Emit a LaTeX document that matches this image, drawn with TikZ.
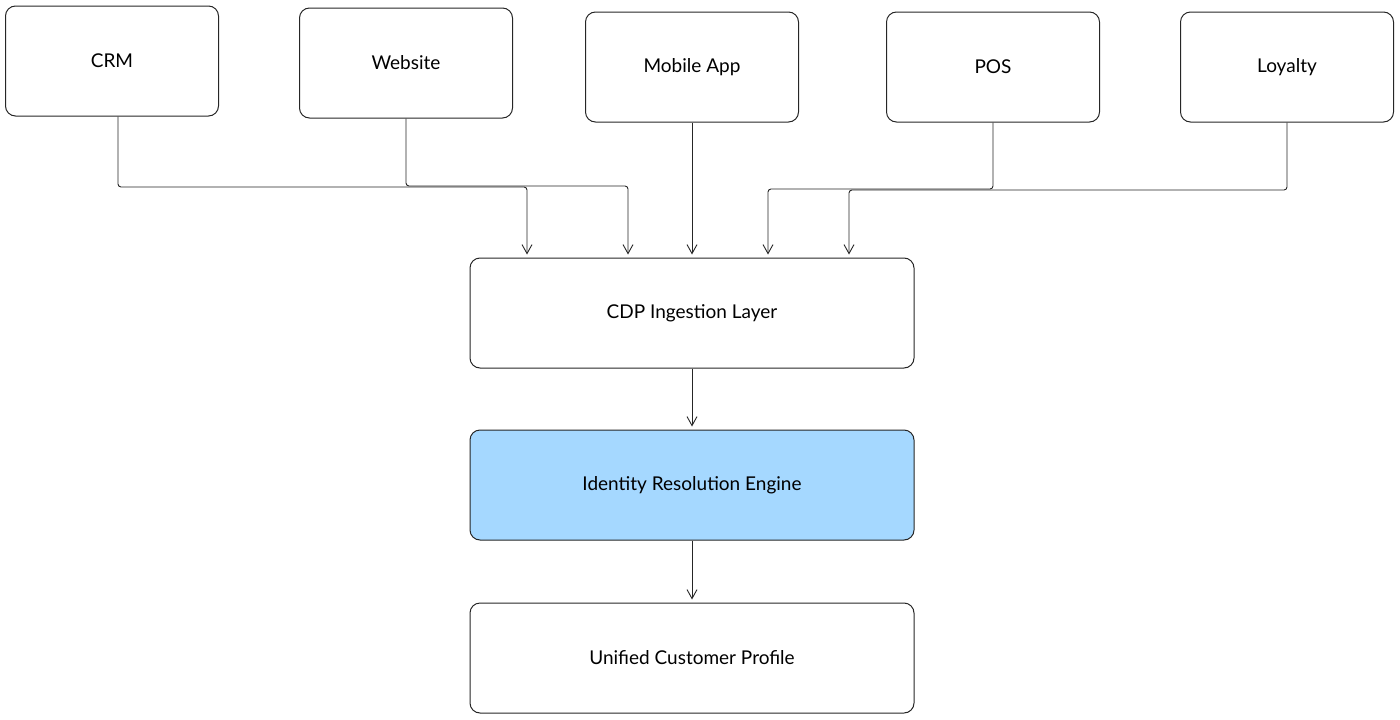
\documentclass[tikz,border=0pt]{standalone}
\usepackage{fontspec}
\setmainfont{Lato}
\usetikzlibrary{arrows.meta}
\begin{document}
\begin{tikzpicture}[x=1pt,y=-1pt,
  box/.style={draw=black!85,line width=1pt,rounded corners=10pt,minimum width=213pt,minimum height=110pt,font=\fontsize{19}{22}\selectfont,inner sep=0pt},
  wide/.style={box,minimum width=444pt},
  arr/.style={->,>={Straight Barb[length=9pt,width=10pt]},draw=black!85,line width=0.9pt,rounded corners=3pt}]
\useasboundingbox (0,0) rectangle (1400,720);
\definecolor{idblue}{HTML}{A5D8FF}
\node[box] (crm) at (112,61) {CRM};
\node[box] (web) at (406,63) {Website};
\node[box] (app) at (692,67) {Mobile App};
\node[box] (pos) at (993,67) {POS};
\node[box] (loy) at (1287,67) {Loyalty};
\node[wide] (cdp) at (692,313) {CDP Ingestion Layer};
\node[wide,fill=idblue] (ire) at (692,485) {Identity Resolution Engine};
\node[wide] (ucp) at (692,658) {Unified Customer Profile};
\coordinate (c1) at (527,187);
\coordinate (c2) at (628,186);
\coordinate (c4) at (768,189);
\coordinate (c5) at (849,190);
\coordinate (s1) at (118,0);
\coordinate (s2) at (406,0);
\coordinate (s4) at (993,0);
\coordinate (s5) at (1287,0);
\draw[arr] (s1 |- crm.south) -- (s1 |- c1) -- (c1) -- ([yshift=3pt]c1 |- cdp.north);
\draw[arr] (s2 |- web.south) -- (s2 |- c2) -- (c2) -- ([yshift=3pt]c2 |- cdp.north);
\draw[arr] (app.south) -- ([yshift=3pt]cdp.north);
\draw[arr] (s4 |- pos.south) -- (s4 |- c4) -- (c4) -- ([yshift=3pt]c4 |- cdp.north);
\draw[arr] (s5 |- loy.south) -- (s5 |- c5) -- (c5) -- ([yshift=3pt]c5 |- cdp.north);
\draw[arr] (cdp.south) -- ([yshift=3pt]ire.north);
\draw[arr] (ire.south) -- ([yshift=3pt]ucp.north);
\end{tikzpicture}
\end{document}
